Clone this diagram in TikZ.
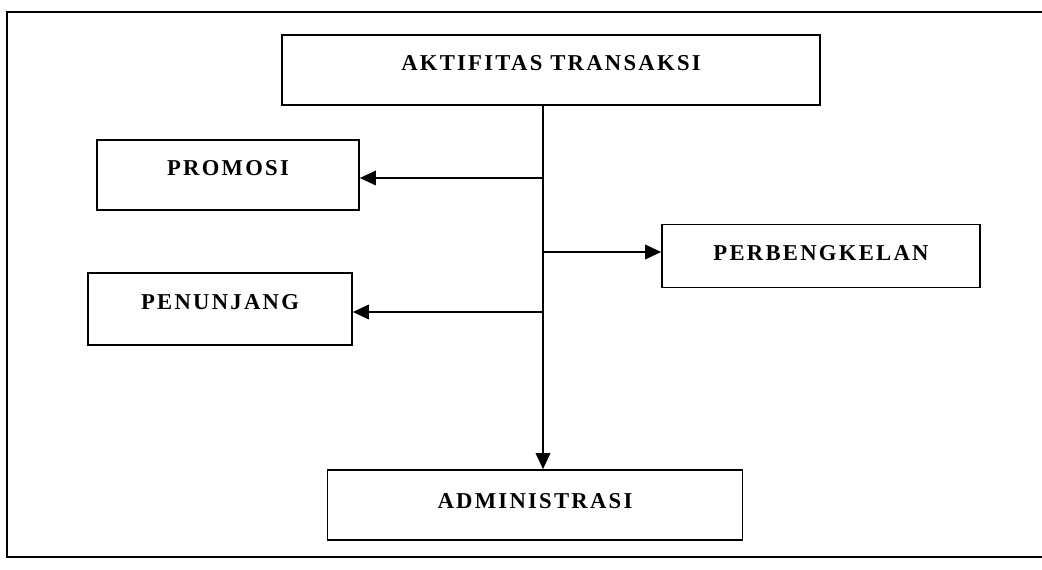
\documentclass[tikz,border=0pt]{standalone}
\usepackage{fontspec}
\setmainfont{Liberation Serif}[LetterSpace=10]
\usetikzlibrary{arrows.meta}
\begin{document}
\begin{tikzpicture}[x=0.75pt,y=-0.75pt,
  box/.style={draw,line width=1.3pt,rectangle,inner sep=0pt,
    font=\fontsize{17}{20}\selectfont\bfseries,text height=11.25pt,text depth=10pt},
  arr/.style={line width=1.1pt,-{Triangle[length=12pt,width=11pt]}},
  frame/.style={line width=1.3pt}]
\useasboundingbox (0,0) rectangle (1042,570);
\draw[frame] (1042,12) -- (7,12) -- (7,557) -- (1042,557);
\node[box,minimum width=538*0.75pt,minimum height=70*0.75pt] (top) at (551,70) {AKTIFITAS TRANSAKSI};
\node[box,minimum width=262*0.75pt,minimum height=70*0.75pt] (prom) at (228,175) {PROMOSI};
\node[box,minimum width=264*0.75pt,minimum height=72*0.75pt] (pen) at (220,309) {PENUNJANG};
\node[box,minimum width=318*0.75pt,minimum height=63*0.75pt,text depth=4pt] (perb) at (821,256) {PERBENGKELAN};
\node[box,minimum width=415*0.75pt,minimum height=70*0.75pt,text depth=6pt] (adm) at (535,505) {ADMINISTRASI};
\coordinate (j1) at (543,178);
\coordinate (j2) at (543,252);
\coordinate (j3) at (543,312);
\draw[arr] (top.south -| j1) -- (adm.north -| j1);
\draw[arr] (j1) -- (prom.east |- j1);
\draw[arr] (j2) -- (perb.west |- j2);
\draw[arr] (j3) -- (pen.east |- j3);
\end{tikzpicture}
\end{document}
